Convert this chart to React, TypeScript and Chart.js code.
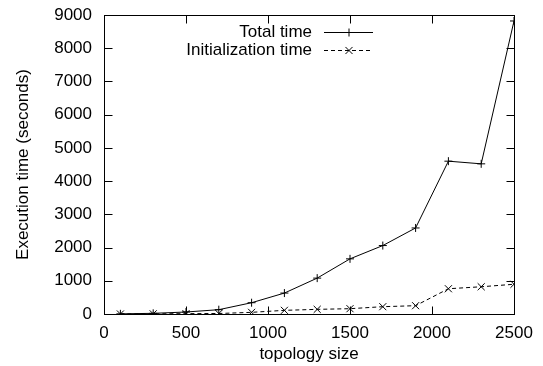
import React, { useEffect, useRef } from "react";
import { Chart, registerables } from "chart.js";

Chart.register(...registerables);

const topologySizes = [100, 300, 500, 700, 900, 1100, 1300, 1500, 1700, 1900, 2100, 2300, 2500];
const totalTime = [5, 20, 60, 130, 340, 630, 1080, 1660, 2060, 2590, 4600, 4520, 8820];
const initTime = [0, 5, 10, 15, 50, 110, 140, 160, 220, 250, 760, 820, 895];
const seriesLabels = ["Total time", "Initialization time"];
const xTitle = "topology size";
const yTitle = "Execution time (seconds)";
const xMin = 0;
const xMax = 2500;
const xStep = 500;
const yMin = 0;
const yMax = 9000;
const yStep = 1000;

const FONT = "'Liberation Sans', Arial, sans-serif";
const FONT_SIZE = 17;

const boxPlugin = {
  id: "gnuBox",
  afterDraw(chart: any) {
    const ctx = chart.ctx;
    const a = chart.chartArea;
    const xs = chart.scales.x;
    const ys = chart.scales.y;
    ctx.save();
    ctx.strokeStyle = "#000";
    ctx.lineWidth = 1;
    ctx.setLineDash([]);
    const L = Math.round(a.left) + 0.5;
    const R = Math.round(a.right) + 0.5;
    const T = Math.round(a.top) + 0.5;
    const B = Math.round(a.bottom) + 0.5;
    ctx.strokeRect(L, T, R - L, B - T);
    const tl = 8;
    ctx.beginPath();
    xs.ticks.forEach((t: any) => {
      const px = Math.round(xs.getPixelForValue(t.value)) + 0.5;
      ctx.moveTo(px, B);
      ctx.lineTo(px, B - tl);
      ctx.moveTo(px, T);
      ctx.lineTo(px, T + tl);
    });
    ys.ticks.forEach((t: any) => {
      const py = Math.round(ys.getPixelForValue(t.value)) + 0.5;
      ctx.moveTo(L, py);
      ctx.lineTo(L + tl, py);
      ctx.moveTo(R, py);
      ctx.lineTo(R - tl, py);
    });
    ctx.stroke();

    // key (legend) inside, top right
    const textRight = 312;
    const lineStart = 324;
    const lineEnd = 373;
    const rows = [32, 50];
    ctx.font = `${FONT_SIZE}px ${FONT}`;
    ctx.fillStyle = "#000";
    ctx.textAlign = "right";
    ctx.textBaseline = "middle";
    chart.data.datasets.forEach((ds: any, i: number) => {
      const y = rows[i] + 0.5;
      ctx.fillText(ds.label, textRight, rows[i]);
      ctx.setLineDash(ds.borderDash || []);
      ctx.beginPath();
      ctx.moveTo(lineStart, y);
      ctx.lineTo(lineEnd, y);
      ctx.stroke();
      ctx.setLineDash([]);
      const cx = (lineStart + lineEnd) / 2 + 0.5;
      ctx.beginPath();
      if (ds.pointStyle === "cross") {
        const r = ds.pointRadius;
        ctx.moveTo(cx - r, y);
        ctx.lineTo(cx + r, y);
        ctx.moveTo(cx, y - r);
        ctx.lineTo(cx, y + r);
      } else {
        const r = ds.pointRadius * Math.SQRT1_2;
        ctx.moveTo(cx - r, y - r);
        ctx.lineTo(cx + r, y + r);
        ctx.moveTo(cx - r, y + r);
        ctx.lineTo(cx + r, y - r);
      }
      ctx.stroke();
    });
    ctx.restore();
  },
};

export default function App() {
  const ref = useRef<HTMLCanvasElement | null>(null);
  useEffect(() => {
    document.body.style.margin = "0";
    const canvas = ref.current!;
    Chart.defaults.font.family = FONT;
    Chart.defaults.font.size = FONT_SIZE;
    Chart.defaults.color = "#000";
    const chart = new Chart(canvas, {
      type: "line",
      data: {
        datasets: [
          {
            label: seriesLabels[0],
            data: topologySizes.map((x, i) => ({ x, y: totalTime[i] })),
            borderColor: "#000",
            backgroundColor: "#000",
            borderWidth: 1,
            pointStyle: "cross",
            pointRadius: 4,
            pointBorderWidth: 1,
            pointBorderColor: "#000",
            fill: false,
            tension: 0,
          },
          {
            label: seriesLabels[1],
            data: topologySizes.map((x, i) => ({ x, y: initTime[i] })),
            borderColor: "#000",
            backgroundColor: "#000",
            borderWidth: 1,
            borderDash: [4, 3],
            pointStyle: "crossRot",
            pointRadius: 5,
            pointBorderWidth: 1,
            pointBorderColor: "#000",
            fill: false,
            tension: 0,
          },
        ],
      },
      options: {
        animation: false,
        responsive: false,
        devicePixelRatio: 1,
        layout: { padding: { top: 15, right: 29, bottom: 0, left: 0 } },
        plugins: {
          legend: { display: false },
          tooltip: { enabled: false },
        },
        scales: {
          x: {
            type: "linear",
            min: xMin,
            max: xMax,
            grid: { display: false, drawTicks: false },
            border: { display: false },
            ticks: { stepSize: xStep, padding: 9, maxRotation: 0, callback: (v: any) => String(v) },
            title: { display: true, text: xTitle, padding: { top: 0, bottom: 1 } },
            afterFit(scale: any) {
              scale.height = 52;
              scale.paddingLeft = 0;
              scale.paddingRight = 0;
            },
          },
          y: {
            min: yMin,
            max: yMax,
            grid: { display: false, drawTicks: false },
            border: { display: false },
            ticks: { stepSize: yStep, padding: 12, callback: (v: any) => String(v) },
            title: { display: true, text: yTitle, padding: { top: 13, bottom: 0 } },
            afterFit(scale: any) {
              scale.width = 104;
              scale.paddingTop = 0;
              scale.paddingBottom = 0;
            },
          },
        },
      },
      plugins: [boxPlugin],
    } as any);
    return () => chart.destroy();
  }, []);
  return (
    <div style={{ position: "absolute", left: 0, top: 0, width: 543, height: 366, background: "#fff" }}>
      <canvas ref={ref} width={543} height={366} style={{ display: "block" }} />
    </div>
  );
}
